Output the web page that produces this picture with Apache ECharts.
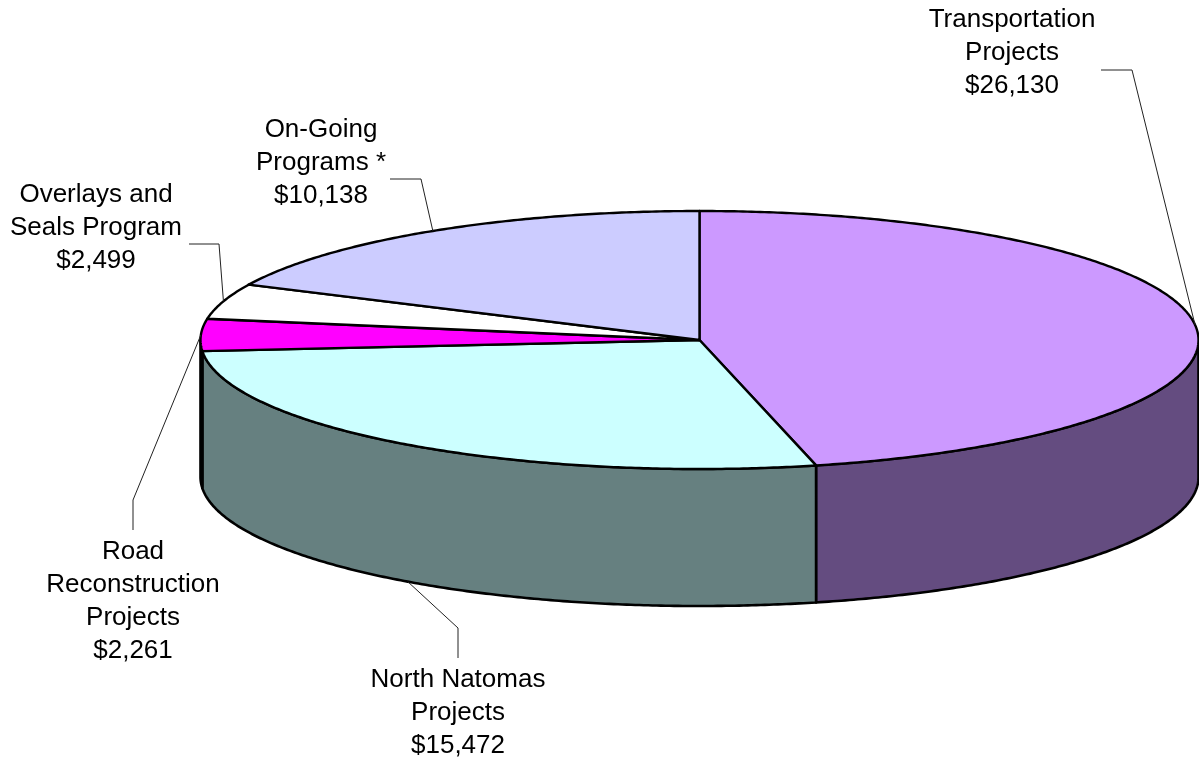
<!DOCTYPE html>
<html><head><meta charset="utf-8">
<script src="https://cdn.jsdelivr.net/npm/echarts@6/dist/echarts.min.js"></script>
<style>html,body{margin:0;padding:0;background:#fff}#c{width:1199px;height:763px}</style>
</head><body><div id="c"></div>
<script>
// ---- data ----
const categories = ['Transportation\nProjects', 'North Natomas\nProjects', 'Road\nReconstruction\nProjects', 'Overlays and\nSeals Program', 'On-Going\nPrograms *'];
const values = [26130, 15472, 2261, 2499, 10138];

// ---- styles / layout ----
const topColors = ['#CC99FF', '#CCFFFF', '#FF00FF', '#FFFFFF', '#CCCCFF'];
const sideColors = ['#644C80', '#668080', '#800080', '#808080', '#666680'];
const CX = 699.5, CY = 340, RX = 499, RY = 129, DEPTH = 137;
const labelLayout = [
  { x: 1012, y: 53, elbow: [1132, 70], end: [1101, 70] },
  { x: 458, y: 713, elbow: [458, 628], end: [458, 658] },
  { x: 133, y: 601, elbow: [133, 500], end: [133, 530] },
  { x: 96, y: 228, elbow: [219, 244], end: [189, 244] },
  { x: 321, y: 163, elbow: [421, 179], end: [390, 179] }
];

const total = values.reduce((a, b) => a + b, 0);
const starts = [];
let acc = 0;
values.forEach(v => { starts.push(acc / total * 360); acc += v; });

function pt(deg, dz) {
  const r = deg * Math.PI / 180;
  return [CX + RX * Math.sin(r), CY - RY * Math.cos(r) + (dz || 0)];
}
function arc(a0, a1, dz) {
  const pts = [];
  const n = Math.max(2, Math.ceil((a1 - a0) / 0.5));
  for (let k = 0; k <= n; k++) pts.push(pt(a0 + (a1 - a0) * k / n, dz));
  return pts;
}

const chart = echarts.init(document.getElementById('c'), null, { renderer: 'canvas' });
chart.setOption({
  animation: false,
  backgroundColor: '#ffffff',
  series: [{
    type: 'custom',
    coordinateSystem: 'none',
    data: values.map((v, i) => ({ name: categories[i], value: v })),
    renderItem: function (params, api) {
      const i = params.dataIndex;
      const v = api.value(0);
      const a0 = starts[i];
      const a1 = a0 + v / total * 360;
      const children = [];
      // side wall (front half only)
      const s = Math.max(a0, 90), e = Math.min(a1, 270);
      if (s < e) {
        const topArc = arc(s, e, 0);
        const botArc = arc(s, e, DEPTH).reverse();
        children.push({
          type: 'polygon', z2: 1,
          shape: { points: topArc.concat(botArc) },
          style: { fill: sideColors[i], stroke: '#000', lineWidth: 2.6, lineJoin: 'round' }
        });
      }
      // top face
      children.push({
        type: 'polygon', z2: 10,
        shape: { points: [[CX, CY]].concat(arc(a0, a1, 0)) },
        style: { fill: topColors[i], stroke: '#000', lineWidth: 2.4, lineJoin: 'round' }
      });
      // leader line
      const m = (a0 + a1) / 2;
      const anchor = (m > 90 && m < 270) ? pt(m, DEPTH) : pt(m, 0);
      const L = labelLayout[i];
      children.push({
        type: 'polyline', z2: 20,
        shape: { points: [L.end, L.elbow, anchor] },
        style: { stroke: '#222', lineWidth: 1, fill: null }
      });
      children.push({
        type: 'text', z2: 30,
        style: {
          text: categories[i] + '\n$' + v.toLocaleString('en-US'),
          x: L.x, y: L.y, align: 'center', verticalAlign: 'middle',
          fontSize: 26, fontFamily: 'Liberation Sans, Arial, sans-serif',
          lineHeight: 33, fill: '#000'
        }
      });
      return { type: 'group', children: children };
    }
  }]
});
</script>
</body></html>
